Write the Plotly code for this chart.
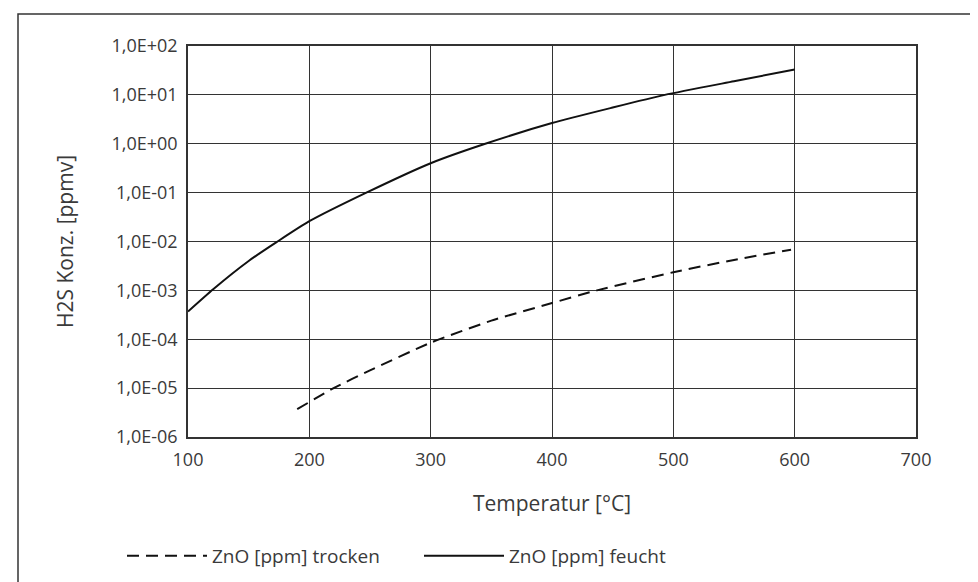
import plotly.graph_objects as go

# Data
temp_feucht = [100, 121, 150, 173, 200, 247, 300, 345, 400, 450, 493, 550, 600]
h2s_feucht = [3.7e-4, 1.07e-3, 4.0e-3, 9.7e-3, 2.6e-2, 1.0e-1, 4.0e-1, 1.0,
              2.65, 5.5, 10.0, 19.0, 33.0]

temp_trocken = [190, 220, 250, 300, 350, 400, 437, 500, 550, 597]
h2s_trocken = [3.7e-6, 1.0e-5, 2.3e-5, 8.5e-5, 2.4e-4, 5.5e-4, 1.0e-3,
               2.35e-3, 4.2e-3, 6.8e-3]

y_tickvals = [1e-6, 1e-5, 1e-4, 1e-3, 1e-2, 1e-1, 1e0, 1e1, 1e2]
y_ticktext = ["1,0E-06", "1,0E-05", "1,0E-04", "1,0E-03", "1,0E-02",
              "1,0E-01", "1,0E+00", "1,0E+01", "1,0E+02"]
x_tickvals = [100, 200, 300, 400, 500, 600, 700]

FONT = "Open Sans, Noto Sans, DejaVu Sans, sans-serif"
TXT = "#3a3a3a"
GRID = "#333333"

fig = go.Figure()
fig.add_trace(go.Scatter(
    x=temp_trocken, y=h2s_trocken, mode="lines", name="ZnO [ppm] trocken",
    line=dict(color="#111111", width=2, dash="12px,7px", shape="spline", smoothing=0.6),
))
fig.add_trace(go.Scatter(
    x=temp_feucht, y=h2s_feucht, mode="lines", name="ZnO [ppm] feucht",
    line=dict(color="#111111", width=2, shape="spline", smoothing=0.6),
))

L, R, T, B = 180, 70, 38, 153
W, H = 978, 582
pw, ph = W - L - R, H - T - B

def px(xp):
    return (xp - L) / pw

def py(yp):
    return (H - B - yp) / ph

fig.update_layout(
    width=W, height=H,
    margin=dict(l=L, r=R, t=T, b=B),
    paper_bgcolor="white", plot_bgcolor="white",
    font=dict(family=FONT, color=TXT, size=18),
    showlegend=True,
    legend=dict(
        orientation="h", x=px(114), y=py(548), xanchor="left", yanchor="middle",
        font=dict(size=19, color=TXT), itemwidth=80, entrywidth=202, entrywidthmode="pixels",
        bgcolor="rgba(0,0,0,0)", tracegroupgap=0,
    ),
    xaxis=dict(
        range=[100, 700], tickvals=x_tickvals, showgrid=True, gridcolor=GRID, gridwidth=1.3,
        showline=True, linecolor=GRID, linewidth=1.5, mirror=True, zeroline=False,
        ticks="outside", ticklen=6, tickcolor="rgba(0,0,0,0)", tickfont=dict(size=18, color=TXT),
        title=dict(text="Temperatur [°C]", font=dict(size=21, color=TXT), standoff=26),
    ),
    yaxis=dict(
        type="log", range=[-6, 2], tickvals=y_tickvals, ticktext=y_ticktext,
        showgrid=True, gridcolor=GRID, gridwidth=1.3,
        showline=True, linecolor=GRID, linewidth=1.5, mirror=True, zeroline=False,
        ticks="outside", ticklen=5, tickcolor="rgba(0,0,0,0)", tickfont=dict(size=18, color=TXT),
        title=dict(text="H2S Konz. [ppmv]", font=dict(size=21, color=TXT), standoff=32),
    ),
    shapes=[dict(
        type="rect", xref="paper", yref="paper",
        x0=px(10), x1=px(990), y0=py(600), y1=py(6),
        line=dict(color="#333333", width=1.5), fillcolor="rgba(0,0,0,0)", layer="below",
    )],
)

fig.write_html("out.html")
